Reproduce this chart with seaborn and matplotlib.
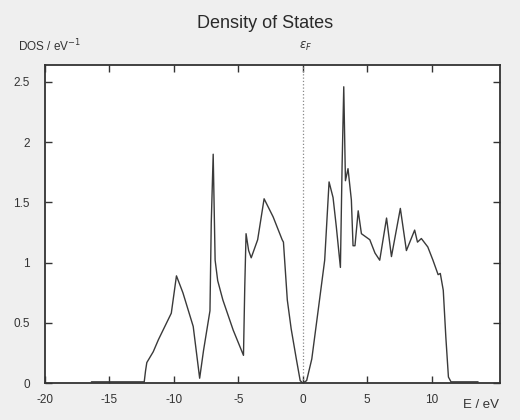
import numpy as np
import pandas as pd
import matplotlib
matplotlib.use("Agg")
import matplotlib.pyplot as plt
import seaborn as sns

# Density of states
energy = [-16.4, -12.3, -12.2, -12.1, -11.6, -11.2, -10.2, -9.8, -9.3, -8.5,
          -8.0, -7.7, -7.2, -7.1, -6.95, -6.8, -6.6, -6.2, -5.4, -4.6,
          -4.5, -4.4, -4.2, -4.0, -3.5, -3.0, -2.3, -1.6, -1.5, -1.2,
          -0.9, -0.5, -0.2, 0.0, 0.3, 0.7, 1.19, 1.7, 2.04, 2.35,
          2.6, 2.92, 3.05, 3.18, 3.31, 3.51, 3.77, 3.9, 4.05, 4.3,
          4.55, 5.2, 5.6, 5.97, 6.5, 6.88, 7.57, 8.04, 8.68, 8.9,
          9.2, 9.7, 10.1, 10.5, 10.67, 10.9, 11.1, 11.3, 11.5, 13.6]
dos = [0.01, 0.01, 0.1, 0.17, 0.26, 0.36, 0.58, 0.89, 0.75, 0.47,
       0.04, 0.27, 0.6, 1.33, 1.9, 1.02, 0.85, 0.69, 0.44, 0.23,
       0.8, 1.24, 1.1, 1.04, 1.19, 1.53, 1.38, 1.19, 1.17, 0.69,
       0.45, 0.2, 0.02, 0.0, 0.02, 0.2, 0.6, 1.02, 1.67, 1.54,
       1.30, 0.96, 1.8, 2.46, 1.68, 1.78, 1.52, 1.14, 1.14, 1.43,
       1.24, 1.19, 1.08, 1.02, 1.37, 1.05, 1.45, 1.10, 1.27, 1.17,
       1.2, 1.13, 1.02, 0.9, 0.91, 0.77, 0.38, 0.05, 0.01, 0.01]

x_ticks = [-20, -15, -10, -5, 0, 5, 10]
y_ticks = [0, 0.5, 1, 1.5, 2, 2.5]

df = pd.DataFrame({"E": energy, "DOS": dos})

sns.set_style("ticks")
plt.rcParams["font.family"] = ["Liberation Sans", "DejaVu Sans"]

fig = plt.figure(figsize=(5.2, 4.2), dpi=100, facecolor="#efefef")
ax = fig.add_axes([0.0865, 0.088, 0.875, 0.757])
ax.set_facecolor("white")

sns.lineplot(data=df, x="E", y="DOS", color="#3a3a3a", linewidth=1.0,
             estimator=None, sort=False, ax=ax)
ax.axvline(0, color="#888888", linestyle=":", linewidth=0.9)

ax.set_xlim(-20, 15.3)
ax.set_ylim(0, 2.64)
ax.set_xticks(x_ticks)
ax.set_xticklabels([str(t) for t in x_ticks])
ax.set_yticks(y_ticks)
ax.set_yticklabels(["0", "0.5", "1", "1.5", "2", "2.5"])
ax.tick_params(direction="in", length=5, width=1, top=True, right=True,
               labelsize=8.5, colors="#333333", pad=8)
ax.tick_params(axis="y", pad=11)
for s in ax.spines.values():
    s.set_color("#333333")
    s.set_linewidth(1.3)

ax.set_xlabel("")
ax.set_ylabel("")
fig.text(0.51, 0.945, "Density of States", ha="center", va="center",
         fontsize=13, color="#2a2a2a")
fig.text(0.035, 0.89, "DOS / eV$^{-1}$", ha="left", va="center",
         fontsize=8.5, color="#333333")
fig.text(0.587, 0.89, r"$\epsilon_F$", ha="center", va="center",
         fontsize=8.5, color="#333333")
fig.text(0.925, 0.035, "E / eV", ha="center", va="center",
         fontsize=9.5, color="#333333")

fig.savefig("out.png", dpi=100, facecolor=fig.get_facecolor())
